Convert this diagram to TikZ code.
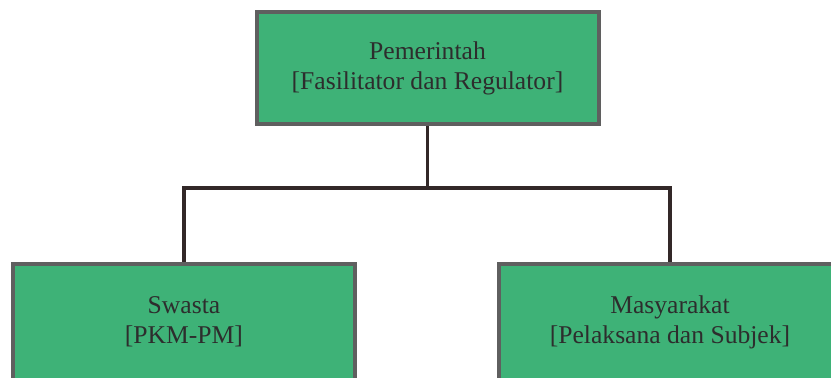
\documentclass[tikz,border=0pt]{standalone}
\usepackage{fontspec}
\setmainfont{Liberation Serif}
\definecolor{boxgreen}{RGB}{62,178,119}
\definecolor{boxline}{RGB}{95,95,95}
\definecolor{linkline}{RGB}{50,40,40}
\definecolor{txt}{RGB}{45,45,45}
\tikzset{
  orgbox/.style={draw=boxline, line width=2pt, fill=boxgreen, text=txt,
    minimum width=171pt, minimum height=56pt, align=center,
    font=\fontsize{12.8}{15}\selectfont},
  link/.style={draw=linkline, line width=1.8pt}
}
\begin{document}
\begin{tikzpicture}[x=0.5pt,y=-0.5pt]
    \useasboundingbox (0,0) rectangle (831,378);
    \begin{scope}
    \clip (0,0) rectangle (831,378);
    \node[orgbox] (gov) at (427.5,68) {Pemerintah\\{[Fasilitator dan Regulator]}};
    \node[orgbox, minimum height=58pt] (private) at (184,322) {Swasta\\{[PKM-PM]}};
    \node[orgbox, minimum height=58pt] (society) at (670,322) {Masyarakat\\{[Pelaksana dan Subjek]}};
    \coordinate (hub) at (427.5,188);
    \draw[link] (gov.south) -- (hub);
    \draw[link] (private.north) |- (hub) -| (society.north);
    \end{scope}
  \end{tikzpicture}
\end{document}
